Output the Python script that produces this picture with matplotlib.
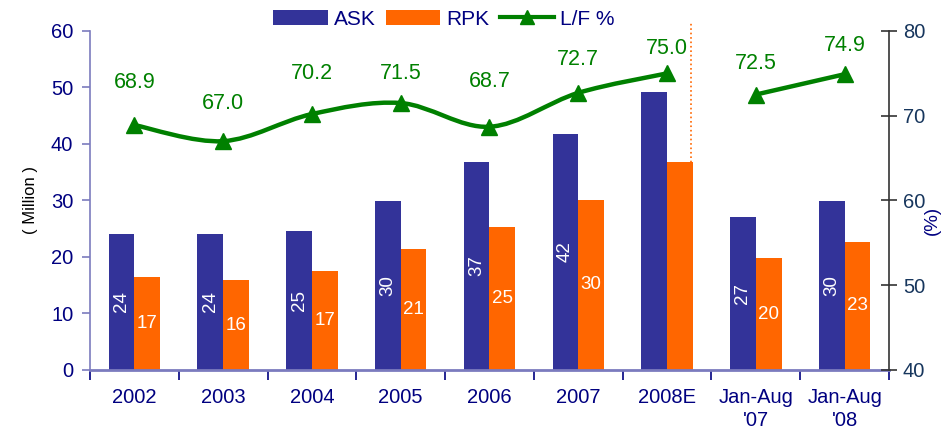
import matplotlib
matplotlib.use("Agg")
import matplotlib.pyplot as plt
import numpy as np
from matplotlib.path import Path
from matplotlib.patches import PathPatch
from matplotlib.lines import Line2D
from matplotlib.patches import Patch

plt.rcParams['font.family'] = ['Liberation Sans', 'DejaVu Sans']

categories = ["2002", "2003", "2004", "2005", "2006", "2007", "2008E", "Jan-Aug\n'07", "Jan-Aug\n'08"]
ask = [24.1, 24.1, 24.6, 29.9, 36.8, 41.8, 49.2, 27.1, 29.9]
rpk = [16.5, 15.9, 17.5, 21.4, 25.3, 30.1, 36.8, 19.8, 22.7]
ask_labels = ["24", "24", "25", "30", "37", "42", "", "27", "30"]
rpk_labels = ["17", "16", "17", "21", "25", "30", "", "20", "23"]
lf = [68.9, 67.0, 70.2, 71.5, 68.7, 72.7, 75.0, 72.5, 74.9]
lf_labels = ["68.9", "67.0", "70.2", "71.5", "68.7", "72.7", "75.0", "72.5", "74.9"]
lf_segments = [(0, 7), (7, 9)]

# style
label_offsets_px = [43, 38, 41, 30, 45, 33, 25, 31, 29]
C_ASK = "#333399"
C_RPK = "#FF6600"
C_LF = "#008000"
NAVY = "#000080"

fig = plt.figure(figsize=(9.49, 4.36), dpi=100)
ax = fig.add_axes([0.0948, 0.1514, 0.8420, 0.7775])
ax2 = ax.twinx()

x = np.arange(len(categories))
w = 0.29
ax.bar(x - 0.145, ask, width=w, color=C_ASK, zorder=2)
ax.bar(x + 0.145, rpk, width=w, color=C_RPK, zorder=2)

for xi, v, t in zip(x, ask, ask_labels):
    if t:
        ax.text(xi - 0.145, v / 2, t, rotation=90, ha='center', va='center',
                color='white', fontsize=13.5)
for xi, v, t in zip(x, rpk, rpk_labels):
    if t:
        ax.text(xi + 0.145, v / 2, t, ha='center', va='center',
                color='white', fontsize=13.5)

ax.set_xlim(-0.5, len(categories) - 0.5)
ax.set_ylim(0, 60)
ax.set_yticks(range(0, 61, 10))
ax2.set_ylim(40, 80)
ax2.set_yticks(range(40, 81, 10))

# smoothed line (Catmull-Rom through data points)
def smooth_path(xs, ys):
    pts = np.column_stack([xs, ys]).astype(float)
    n = len(pts)
    verts = [pts[0]]
    codes = [Path.MOVETO]
    for i in range(n - 1):
        p0 = pts[i - 1] if i > 0 else pts[i]
        p1 = pts[i]
        p2 = pts[i + 1]
        p3 = pts[i + 2] if i + 2 < n else pts[i + 1]
        c1 = p1 + (p2 - p0) / 6.0
        c2 = p2 - (p3 - p1) / 6.0
        verts += [c1, c2, p2]
        codes += [Path.CURVE4] * 3
    return Path(verts, codes)

for s, e in lf_segments:
    p = smooth_path(x[s:e], lf[s:e])
    ax2.add_patch(PathPatch(p, facecolor='none', edgecolor=C_LF, lw=3.2,
                            capstyle='round', joinstyle='round', zorder=3))
ax2.plot(x, lf, linestyle='none', marker='^', color=C_LF, markersize=12, zorder=4)
for xi, v, t, off in zip(x, lf, lf_labels, label_offsets_px):
    ax2.annotate(t, (xi, v), xytext=(0, off * 0.72), textcoords='offset points',
                 ha='center', va='center', color=C_LF, fontsize=15.5)

# dotted divider
ax.axvline(6.27, ymin=0, ymax=1.027, color=C_RPK, ls=':', lw=1.2, clip_on=False, zorder=1)

# axes styling
for a in (ax, ax2):
    a.spines['top'].set_visible(False)
ax.spines['right'].set_visible(False)
ax2.spines['left'].set_visible(False)
ax2.spines['bottom'].set_visible(False)
ax.spines['left'].set_color("#7B7BBE")
ax.spines['left'].set_linewidth(1.2)
ax.spines['bottom'].set_color("#7B7BBE")
ax.spines['bottom'].set_linewidth(2)
ax2.spines['right'].set_color("#333333")
ax2.spines['right'].set_linewidth(1.2)

ax.tick_params(axis='y', colors="#7B7BBE", labelcolor=NAVY, labelsize=14.5,
               direction='out', length=6, width=1.2, pad=6)
ax2.tick_params(axis='y', colors="#333333", labelcolor="#17365D", labelsize=14.5,
                direction='inout', length=12, width=1.2, pad=4)
ax.set_xticks(x)
ax.set_xticklabels(categories, color=NAVY, fontsize=14.5, linespacing=1.25)
ax.tick_params(axis='x', length=0, pad=13)
ax.set_xticks(np.arange(-0.5, len(categories), 1.0), minor=True)
ax.tick_params(axis='x', which='minor', direction='out', length=7, width=1.2, colors=NAVY)

fig.text(30 / 949, 1 - 200 / 436, "( Million )", rotation=90, ha='center', va='center',
         fontsize=12, color='black')
fig.text(932 / 949, 1 - 220 / 436, "(%)", rotation=90, ha='center', va='center',
         fontsize=13.5, color=NAVY)

handles = [Patch(facecolor=C_ASK, edgecolor='none'),
           Patch(facecolor=C_RPK, edgecolor='none'),
           Line2D([], [], color=C_LF, lw=3, marker='^', markersize=10)]
leg = fig.legend(handles, ["ASK", "RPK", "L/F %"], loc='center', ncol=3,
                 bbox_to_anchor=(0.468, 0.956), frameon=False, fontsize=15,
                 handlelength=2.6, handleheight=0.7, columnspacing=0.5,
                 handletextpad=0.3, labelcolor=NAVY)

fig.savefig("out.png", dpi=100)
